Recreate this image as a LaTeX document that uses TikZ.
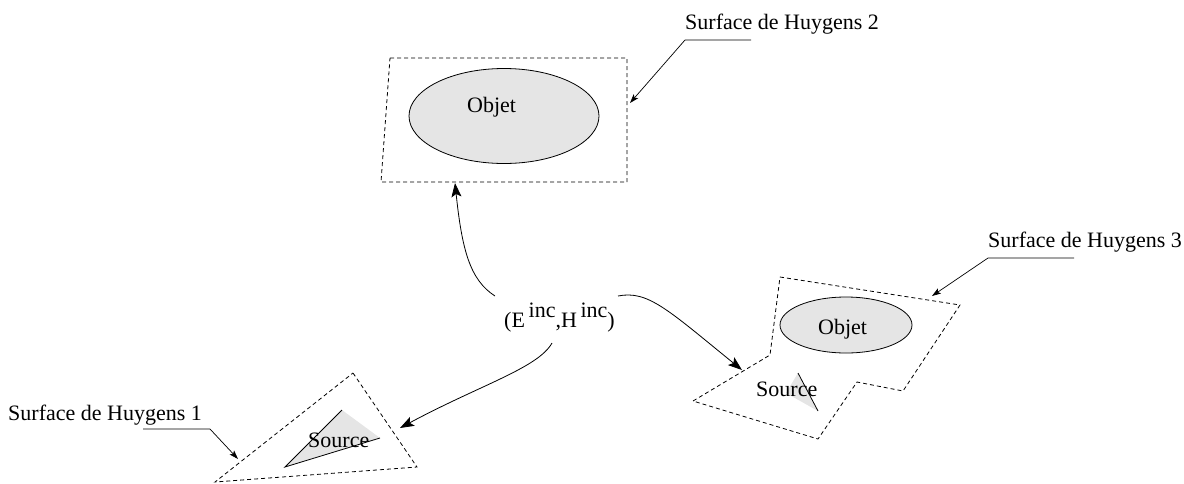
\documentclass[tikz,border=0pt]{standalone}
\usepackage{fontspec}
\setmainfont{Liberation Serif}
\usetikzlibrary{arrows.meta}
\begin{document}
\begin{tikzpicture}[x=1pt,y=-1pt,
  font=\fontsize{22}{26}\selectfont,
  surf/.style={draw, dash pattern=on 4pt off 3pt, line width=0.8pt},
  obj/.style={draw, fill=gray!20, line width=0.8pt},
  srcfill/.style={fill=gray!20},
  srcline/.style={draw, line width=0.8pt},
  bigarrow/.style={-{Stealth[length=14pt,width=10pt,inset=3pt]}, line width=0.8pt},
  leader/.style={-{Stealth[length=9pt,width=6pt,inset=2pt]}, line width=0.7pt},
  lbl/.style={anchor=base west, inner sep=0pt}]
\useasboundingbox (0,0) rectangle (1184,483);
% Surface 2
\draw[surf] (390,58) -- (627,58) -- (627,182) -- (381,182) -- cycle;
\draw[obj] (504,116) ellipse [x radius=95pt, y radius=47.5pt];
\node[lbl] (objet1) at (467,112) {Objet};
% Surface 3
\draw[surf] (780,277) -- (960,305) -- (903,391) -- (857,382) -- (818,439) -- (693,401) -- (770,355) -- cycle;
\draw[obj] (846,325) ellipse [x radius=66pt, y radius=28pt];
\node[lbl] (objet2) at (818,334) {Objet};
\fill[srcfill] (798,373) -- (818,411) -- (786,393) -- cycle;
\draw[srcline] (798,373) -- (818,411);
\node[lbl] (source2) at (756,396) {Source};
% Surface 1
\draw[surf] (353,373) -- (417,467) -- (215,482) -- cycle;
\fill[srcfill] (342,410) -- (380,438) -- (285,467) -- cycle;
\draw[srcline] (342,410) -- (285,467) -- (380,438);
\node[lbl] (source1) at (308,447) {Source};
% labels
\node[lbl] (h1) at (8,420) {Surface de Huygens 1};
\node[lbl] (h2) at (685,29) {Surface de Huygens 2};
\node[lbl] (h3) at (988,247) {Surface de Huygens 3};
\coordinate (h1a) at (210,429); \coordinate (h1b) at (143,429); \coordinate (h1t) at (238,459);
\coordinate (h2a) at (751,40); \coordinate (h2b) at (685,40); \coordinate (h2t) at (630,103);
\coordinate (h3a) at (1074,258); \coordinate (h3b) at (988,258); \coordinate (h3t) at (932,296);
\draw[leader] (h1b) -- (h1a) -- (h1t);
\draw[leader] (h2a) -- (h2b) -- (h2t);
\draw[leader] (h3a) -- (h3b) -- (h3t);
% incident field
\node[lbl] (eh) at (504,327) {(E\,\raisebox{10pt}{inc},H\,\raisebox{10pt}{inc})};
\coordinate (s2) at (495,296); \coordinate (t2) at (455,183);
\coordinate (s3) at (618,296); \coordinate (t3) at (742,370);
\coordinate (s1) at (552,343); \coordinate (t1) at (400,428);
\draw[bigarrow] (s2) .. controls (470,280) and (462,250) .. (t2);
\draw[bigarrow] (s3) .. controls (648,290) and (668,310) .. (t3);
\draw[bigarrow] (s1) .. controls (538,368) and (480,385) .. (t1);
\end{tikzpicture}
\end{document}
